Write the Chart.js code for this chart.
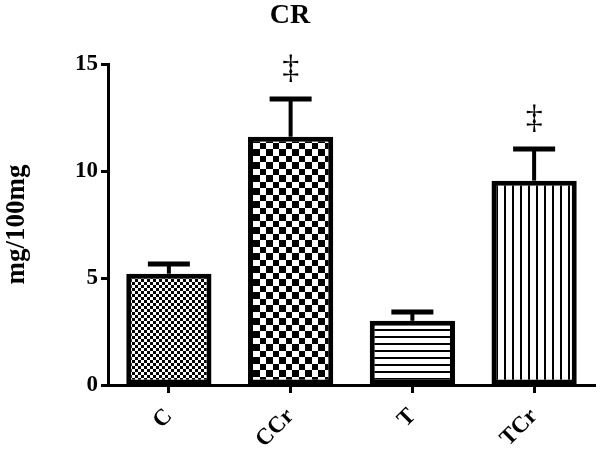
<!DOCTYPE html>
<html>
<head>
<meta charset="utf-8">
<script src="https://cdn.jsdelivr.net/npm/chart.js@4/dist/chart.umd.min.js"></script>
<style>
html,body{margin:0;padding:0;background:#fff;}
canvas{display:block;}
</style>
</head>
<body>
<canvas id="c" width="600" height="452" style="width:600px;height:452px"></canvas>
<script>
const categories = ['C', 'CCr', 'T', 'TCr'];
const means = [5.2, 11.6, 3.0, 9.55];
const sems = [0.45, 1.76, 0.41, 1.48];
const marks = ['', '\u2021', '', '\u2021'];
const titleText = 'CR';
const yTitle = 'mg/100mg';
const yMin = 0, yMax = 15, yStep = 5;

const SERIF = '"Liberation Serif", "Times New Roman", Times, serif';

function makePattern(kind) {
  const t = document.createElement('canvas');
  let w, h;
  const g = () => t.getContext('2d');
  if (kind === 'fine') {
    w = h = 6; t.width = w; t.height = h;
    const x = g(); x.fillStyle = '#fff'; x.fillRect(0,0,w,h);
    x.fillStyle = '#000'; x.fillRect(0,0,3,3); x.fillRect(3,3,3,3);
  } else if (kind === 'coarse') {
    w = h = 13; t.width = w; t.height = h;
    const x = g(); x.fillStyle = '#fff'; x.fillRect(0,0,w,h);
    x.fillStyle = '#000'; x.fillRect(0,0,6,6); x.fillRect(6,6,7,7);
  } else if (kind === 'hlines') {
    w = 4; h = 7; t.width = w; t.height = h;
    const x = g(); x.fillStyle = '#fff'; x.fillRect(0,0,w,h);
    x.fillStyle = '#000'; x.fillRect(0,0,w,2);
  } else {
    w = 8; h = 4; t.width = w; t.height = h;
    const x = g(); x.fillStyle = '#fff'; x.fillRect(0,0,w,h);
    x.fillStyle = '#000'; x.fillRect(0,0,2,h);
  }
  return document.getElementById('c').getContext('2d').createPattern(t, 'repeat');
}

const errorBars = {
  id: 'errorBars',
  afterDatasetsDraw(chart) {
    const ctx = chart.ctx;
    const meta = chart.getDatasetMeta(0);
    const ys = chart.scales.y;
    ctx.save();
    ctx.strokeStyle = '#000';
    ctx.fillStyle = '#000';
    meta.data.forEach((bar, i) => {
      const x = bar.x;
      const top = bar.y;
      const ey = ys.getPixelForValue(means[i] + sems[i]);
      ctx.lineWidth = 4;
      ctx.beginPath(); ctx.moveTo(x, top); ctx.lineTo(x, ey); ctx.stroke();
      ctx.lineWidth = 5;
      ctx.lineCap = 'butt';
      ctx.beginPath(); ctx.moveTo(x - 21, ey); ctx.lineTo(x + 21, ey); ctx.stroke();
      if (marks[i]) {
        ctx.font = '34px ' + SERIF;
        ctx.textAlign = 'center';
        ctx.textBaseline = 'middle';
        ctx.fillText(marks[i], x, ey - 30);
      }
    });
    ctx.font = 'bold 28px ' + SERIF;
    ctx.textAlign = 'center';
    ctx.textBaseline = 'middle';
    ctx.fillText(titleText, 290, 16);
    ctx.restore();
  }
};

function draw() {
  const patterns = [makePattern('fine'), makePattern('coarse'), makePattern('hlines'), makePattern('vlines')];
  new Chart(document.getElementById('c'), {
    type: 'bar',
    data: {
      labels: categories,
      datasets: [{
        data: means,
        backgroundColor: patterns,
        borderColor: '#000',
        borderWidth: 5,
        borderSkipped: false,
        barPercentage: 0.70,
        categoryPercentage: 1.0
      }]
    },
    options: {
      responsive: false,
      animation: false,
      devicePixelRatio: 1,
      layout: { padding: { top: 64, right: 5, left: 0, bottom: 0 } },
      plugins: { legend: { display: false }, tooltip: { enabled: false }, title: { display: false } },
      scales: {
        x: {
          offset: true,
          grid: { display: true, offset: false, drawOnChartArea: false, drawTicks: true, tickLength: 8, tickWidth: 3, tickColor: '#000' },
          border: { display: true, color: '#000', width: 3 },
          ticks: { color: '#000', font: { family: SERIF, size: 23, weight: 'bold' }, minRotation: 45, maxRotation: 45, padding: 10 },
          afterFit(s) { s.height = 67; }
        },
        y: {
          min: yMin, max: yMax,
          grid: { display: true, drawOnChartArea: false, drawTicks: true, tickLength: 7, tickWidth: 3, tickColor: '#000' },
          border: { display: true, color: '#000', width: 3 },
          ticks: { stepSize: yStep, color: '#000', font: { family: SERIF, size: 23, weight: 'bold' }, padding: 3 },
          title: { display: true, text: yTitle, color: '#000', font: { family: SERIF, size: 27, weight: 'bold' }, padding: { top: 1, bottom: 0 } },
          afterFit(s) { s.width = 108; }
        }
      }
    },
    plugins: [errorBars]
  });
}

Promise.all([
  document.fonts.load('bold 23px "Liberation Serif"'),
  document.fonts.load('34px "Liberation Serif"')
]).then(draw, draw);
</script>
</body>
</html>
